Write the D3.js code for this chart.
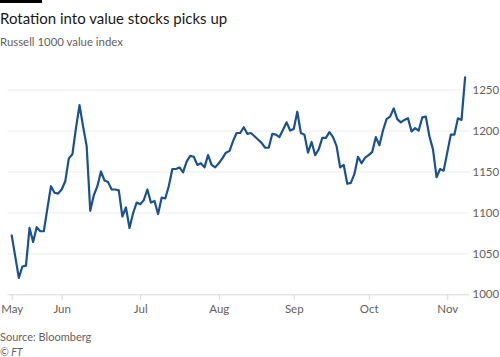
<!DOCTYPE html>
<html>
<head>
<meta charset="utf-8">
<script src="https://cdn.jsdelivr.net/npm/d3@7"></script>
<style>
  html, body { margin: 0; padding: 0; background: #fff; }
  svg { display: block; }
  text { font-family: Lato, "Open Sans", sans-serif; }
</style>
</head>
<body>
<svg id="chart" width="500" height="357"></svg>
<script>
// ---- Data (Russell 1000 value index, daily closes, 11 May - 9 Nov 2020) ----
const title = "Rotation into value stocks picks up";
const subtitle = "Russell 1000 value index";
const source = "Source: Bloomberg";
const credit = "© FT";

const startDate = "2020-05-11";
const marketHolidays = ["2020-05-25", "2020-07-03", "2020-09-07"];

const values = [
  1072, 1046, 1020, 1034, 1035, 1081, 1064, 1082, 1077, 1077,
  1105, 1132, 1124, 1123, 1128, 1138, 1166, 1171, 1203, 1231,
  1205, 1181, 1102, 1121, 1132, 1150, 1139, 1137, 1128, 1128,
  1127, 1095, 1106, 1081, 1099, 1112, 1110, 1115, 1128, 1112,
  1114, 1098, 1118, 1117, 1132, 1153, 1153, 1155, 1149, 1162,
  1169, 1168, 1158, 1160, 1155, 1170, 1158, 1155, 1160, 1166,
  1173, 1175, 1187, 1197, 1197, 1204, 1196, 1197, 1193, 1189,
  1185, 1179, 1179, 1196, 1195, 1192, 1201, 1210, 1200, 1202,
  1223, 1197, 1195, 1173, 1186, 1170, 1177, 1191, 1191, 1198,
  1192, 1181, 1155, 1158, 1135, 1136, 1147, 1168, 1160, 1167,
  1170, 1174, 1192, 1182, 1200, 1214, 1217, 1227, 1214, 1210,
  1213, 1215, 1199, 1203, 1200, 1216, 1217, 1193, 1177, 1143,
  1153, 1151, 1173, 1195, 1195, 1215, 1213, 1265
];

const yTicks = [1000, 1050, 1100, 1150, 1200, 1250];
const monthLabels = ["Jan","Feb","Mar","Apr","May","Jun","Jul","Aug","Sep","Oct","Nov","Dec"];

// ---- Trading-day calendar ----
const fmt = d3.utcFormat("%Y-%m-%d");
const dates = [];
let cur = d3.utcParse("%Y-%m-%d")(startDate);
while (dates.length < values.length) {
  const dow = cur.getUTCDay();
  const key = fmt(cur);
  if (dow !== 0 && dow !== 6 && !marketHolidays.includes(key)) dates.push(key);
  cur = d3.utcDay.offset(cur, 1);
}
const data = dates.map((d, i) => ({ date: d, value: values[i] }));

// first trading day of each month in the data -> tick
const tickDates = dates.filter((d, i) => i === 0 || d.slice(5, 7) !== dates[i - 1].slice(5, 7));

// ---- Layout ----
const svg = d3.select("#chart");
const plot = { left: 11.7, right: 465.1, gridLeft: 7.5, gridRight: 469, top: 89.6, bottom: 294.3 };
const FONT = "Lato, 'Open Sans', sans-serif";

const x = d3.scalePoint().domain(dates).range([plot.left, plot.right]);
const y = d3.scaleLinear().domain([1000, 1250]).range([plot.bottom, plot.top]);

// FT top bar
svg.append("rect").attr("x", 0).attr("y", 0).attr("width", 42).attr("height", 3).attr("fill", "#000");

// Title / subtitle
svg.append("text").attr("x", 0).attr("y", 24)
  .attr("font-size", 15).attr("fill", "#1a1817").text(title);
svg.append("text").attr("x", 0).attr("y", 46)
  .attr("font-size", 11.4).attr("fill", "#66605c").text(subtitle);

// Gridlines + y labels
const yAxis = d3.axisRight(y).tickValues(yTicks)
  .tickSize(-(plot.gridRight - plot.gridLeft)).tickPadding(3.5).tickFormat(d3.format("d"));
const gy = svg.append("g").attr("transform", `translate(${plot.gridRight},0)`).call(yAxis);
gy.select(".domain").remove();
gy.selectAll(".tick line").attr("stroke", d => d === 1000 ? "#d9d9d9" : "#ececec").attr("stroke-width", 1);
gy.selectAll(".tick text").attr("font-size", 11.5).attr("fill", "#66605c").attr("font-family", FONT);

// X axis
const xAxis = d3.axisBottom(x).tickValues(tickDates).tickSize(6).tickPadding(5)
  .tickFormat(d => monthLabels[+d.slice(5, 7) - 1]);
const gx = svg.append("g").attr("transform", `translate(0,${plot.bottom})`).call(xAxis);
gx.select(".domain").remove();
gx.selectAll(".tick line").attr("stroke", "#d9d9d9");
gx.selectAll(".tick text").attr("font-size", 11.5).attr("fill", "#66605c").attr("font-family", FONT);

// Line
const line = d3.line().x(d => x(d.date)).y(d => y(d.value));
svg.append("path").datum(data)
  .attr("fill", "none").attr("stroke", "#1a5190").attr("stroke-width", 2.2)
  .attr("stroke-linejoin", "round").attr("stroke-linecap", "round")
  .attr("d", line);

// Footer
svg.append("text").attr("x", 0).attr("y", 341)
  .attr("font-size", 11).attr("fill", "#66605c").text(source);
svg.append("text").attr("x", 0).attr("y", 355.5)
  .attr("font-size", 10.5).attr("font-style", "italic").attr("fill", "#66605c").text(credit);
</script>
</body>
</html>
